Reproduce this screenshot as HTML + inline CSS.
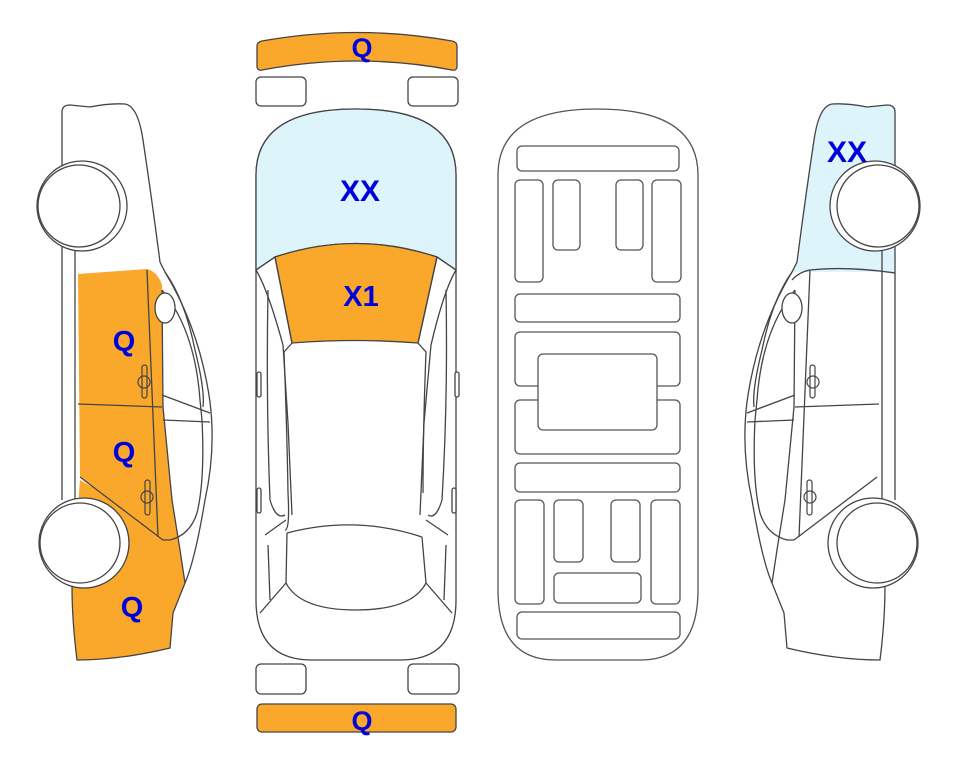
<!DOCTYPE html>
<html><head><meta charset="utf-8"><style>
html,body{margin:0;padding:0;background:#fff;}
svg{display:block;}
text{font-family:"Liberation Sans",Arial,sans-serif;font-weight:bold;fill:#0000dd;}
</style></head><body>
<svg width="963" height="768" viewBox="0 0 963 768" xmlns="http://www.w3.org/2000/svg">
<defs>
<g id="sidelines" fill="none" stroke="#444" stroke-width="1.3">
  <path d="M62,112 Q62,105 70,105 L90,107 Q110,103 125,104 Q138,106 143,140 Q152,200 160,262 L165,272 Q200,330 210,402 Q216,450 205,500 Q195,560 185,583 L173,613 L170,648 Q120,660 77,660 Q72,620 72,587"/>
  <path d="M62,112 L62,500 M75,250 L75,500"/>
  <path d="M165,272 Q185,300 195,350 Q205,390 203,407"/>
  <path d="M162,290 Q195,330 200,400 L202,420 Q205,480 197,513 Q190,535 170,540 L163,540"/>
  <path d="M162,395 L210,413 M163,420 L210,422"/>
  <path d="M147,270 L158,537 M78,404 L162,407 M80,477 L163,540"/>
  <path d="M162,290 L163,407 L172,500 L180,550 L185,583"/>
</g>
</defs>

<!-- ========== LEFT CAR ========== -->
<path d="M62,272 L62,112 Q62,105 70,105 L90,107 Q110,103 125,104 Q138,106 143,140 Q152,200 160,262 L165,272 Z" fill="#fff"/>
<path d="M78,274 L147,269 Q158,272 162,285 L162,290 L163,407 L172,500 L180,550 L185,583 L173,613 L170,648 Q120,660 77,660 Q72,620 72,587 L80,480 L92,487 L80,477 Z" fill="#faa82c" stroke="none"/>
<rect x="62" y="270" width="16" height="230" fill="#fff"/>
<use href="#sidelines"/>
<ellipse cx="165" cy="308" rx="10" ry="15" fill="#fff" stroke="#444" stroke-width="1.3"/>
<g fill="none" stroke="#444" stroke-width="1.2">
<rect x="142" y="365" width="5" height="33" rx="2.5"/><circle cx="144" cy="382" r="6"/>
<rect x="145" y="480" width="5" height="35" rx="2.5"/><circle cx="147" cy="497" r="6"/>
</g>
<g fill="#fff" stroke="#444" stroke-width="1.3">
<circle cx="82" cy="206" r="45"/><circle cx="79" cy="206" r="41"/>
<circle cx="84" cy="543" r="45"/><circle cx="80" cy="543" r="40"/>
</g>
<text x="124" y="351" font-size="29" text-anchor="middle">Q</text>
<text x="124" y="462" font-size="29" text-anchor="middle">Q</text>
<text x="132" y="617" font-size="29" text-anchor="middle">Q</text>

<!-- ========== RIGHT CAR (mirrored) ========== -->
<g transform="translate(957,0) scale(-1,1)">
<path d="M62,272 L62,112 Q62,105 70,105 L90,107 Q110,103 125,104 Q138,106 143,140 Q152,200 160,262 L165,272 Z" fill="#ddf4fb"/>
<use href="#sidelines"/>
<path d="M62,273 Q110,266 147,270 Q158,272 165,280" fill="none" stroke="#444" stroke-width="1.3"/>
<ellipse cx="165" cy="308" rx="10" ry="15" fill="#fff" stroke="#444" stroke-width="1.3"/>
<g fill="none" stroke="#444" stroke-width="1.2">
<rect x="142" y="365" width="5" height="33" rx="2.5"/><circle cx="144" cy="382" r="6"/>
<rect x="145" y="480" width="5" height="35" rx="2.5"/><circle cx="147" cy="497" r="6"/>
</g>
<g fill="#fff" stroke="#444" stroke-width="1.3">
<circle cx="82" cy="206" r="45"/><circle cx="79" cy="206" r="41"/>
<circle cx="84" cy="543" r="45"/><circle cx="80" cy="543" r="40"/>
</g>
</g>
<text x="847" y="162" font-size="30" text-anchor="middle">XX</text>

<!-- ========== TOP VIEW ========== -->
<g stroke="#444" stroke-width="1.3">
<path d="M257,46 Q257,42 262,41 Q357,24 452,41 Q457,42 457,46 L457,66 Q457,71 452,70 Q357,52 262,70 Q257,71 257,66 Z" fill="#faa82c"/>
<rect x="256" y="77" width="50" height="29" rx="5" fill="#fff"/>
<rect x="408" y="77" width="50" height="29" rx="5" fill="#fff"/>
<path d="M256,175 Q256,109 356,109 Q456,109 456,175 L456,600 Q456,660 400,660 L312,660 Q256,660 256,600 Z" fill="#fff"/>
<path d="M256,175 Q256,109 356,109 Q456,109 456,175 L456,270 L437,257 Q356,230 275,257 L256,270 Z" fill="#ddf4fb"/>
<path d="M275,257 Q356,230 437,257 L418,343 Q356,338 292,343 Z" fill="#faa82c"/>
<g fill="none">
<path d="M256,270 L275,257 L292,343 M456,270 L437,257 L418,343"/>
<path d="M256,270 Q268,290 283,345 L288,423 L292,515 M456,270 Q444,290 431,345 L424,423 L420,515"/>
<path d="M292,343 L284,352 Q287,430 288,493 Q290,530 285,530 M418,343 L426,352 Q423,430 423,493"/>
<path d="M268,290 Q266,400 270,500 Q276,520 285,515 M446,290 Q448,400 442,500 Q436,520 428,515"/>
<path d="M287,533 Q356,515 422,537 M286,583 Q300,610 356,610 Q412,610 426,583 L422,537 M287,533 L286,583"/>
<path d="M265,535 L286,520 M448,535 L426,520 M260,613 L286,583 M452,613 L426,583"/>
<path d="M268,545 L270,600 M446,545 L444,600"/>
</g>
<rect x="257" y="372" width="4" height="25" rx="2" fill="#fff"/>
<rect x="455" y="372" width="4" height="25" rx="2" fill="#fff"/>
<rect x="257" y="488" width="4" height="25" rx="2" fill="#fff"/>
<rect x="452" y="488" width="4" height="25" rx="2" fill="#fff"/>
<rect x="256" y="664" width="50" height="30" rx="5" fill="#fff"/>
<rect x="408" y="664" width="51" height="30" rx="5" fill="#fff"/>
<rect x="257" y="704" width="199" height="28" rx="5" fill="#faa82c"/>
</g>
<text x="362" y="57" font-size="27" text-anchor="middle">Q</text>
<text x="360" y="201" font-size="30" text-anchor="middle">XX</text>
<text x="361" y="306" font-size="29" text-anchor="middle">X1</text>
<text x="362" y="730" font-size="27" text-anchor="middle">Q</text>

<!-- ========== UNDERBODY ========== -->
<g fill="#fff" stroke="#555" stroke-width="1.3">
<path d="M498,175 Q498,109 597,109 Q698,109 698,175 L698,590 Q698,660 640,660 L556,660 Q498,660 498,590 Z"/>
<rect x="517" y="146" width="162" height="25" rx="5"/>
<rect x="515" y="180" width="28" height="102" rx="5"/>
<rect x="553" y="180" width="27" height="70" rx="5"/>
<rect x="616" y="180" width="27" height="70" rx="5"/>
<rect x="652" y="180" width="29" height="102" rx="5"/>
<rect x="515" y="294" width="165" height="28" rx="5"/>
<rect x="515" y="332" width="165" height="54" rx="5"/>
<rect x="515" y="400" width="165" height="54" rx="5"/>
<rect x="538" y="354" width="119" height="76" rx="5"/>
<rect x="515" y="463" width="165" height="29" rx="5"/>
<rect x="515" y="500" width="29" height="104" rx="5"/>
<rect x="554" y="500" width="29" height="62" rx="5"/>
<rect x="611" y="500" width="29" height="62" rx="5"/>
<rect x="651" y="500" width="29" height="104" rx="5"/>
<rect x="554" y="573" width="87" height="30" rx="5"/>
<rect x="517" y="612" width="163" height="27" rx="5"/>
</g>
</svg>
</body></html>
